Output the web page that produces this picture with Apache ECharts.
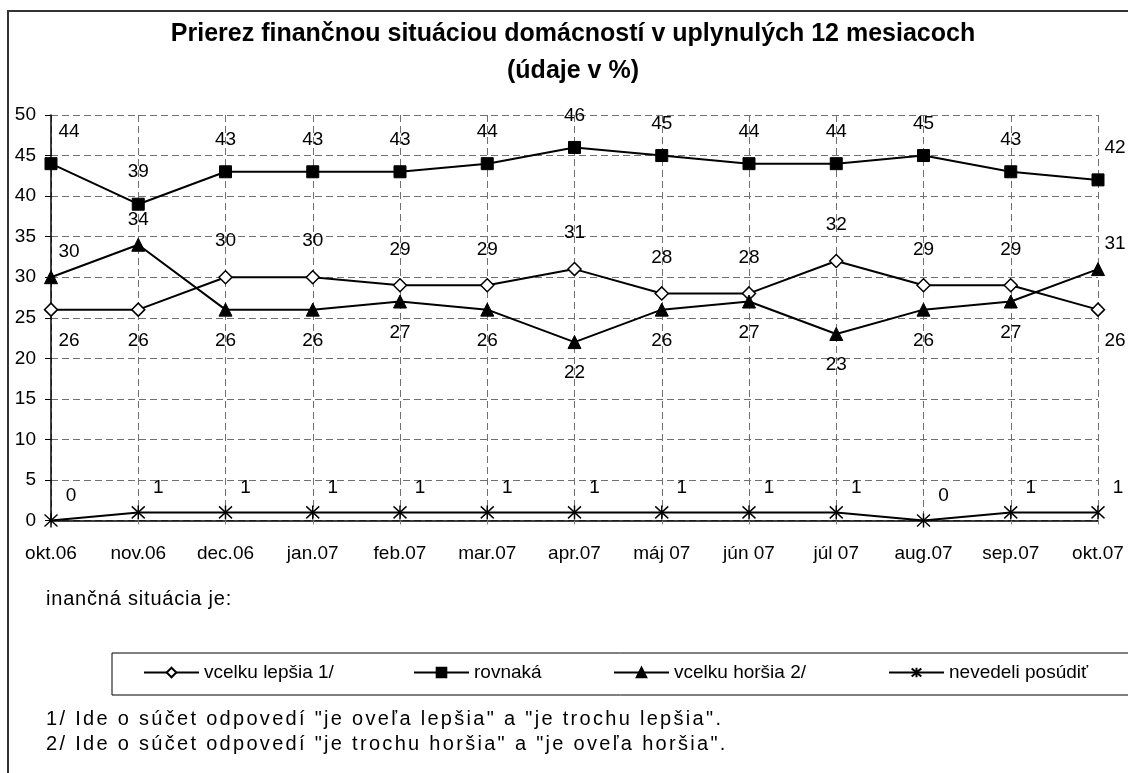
<!DOCTYPE html>
<html>
<head>
<meta charset="utf-8">
<style>
  html, body { margin: 0; padding: 0; background: #fff; }
  #wrap { position: relative; width: 1128px; height: 773px; overflow: hidden; }
  #chart { width: 1128px; height: 773px; }
  .note {
    position: absolute; left: 46px;
    font: 20px "Liberation Sans", Arial, sans-serif;
    line-height: 20px; color: #000; white-space: nowrap;
  }
</style>
<script src="https://cdn.jsdelivr.net/npm/echarts@6/dist/echarts.min.js"></script>
</head>
<body>
<div id="wrap">
  <div id="chart"></div>
  <div class="note" style="top:588px; letter-spacing:0.8px;">inančná situácia je:</div>
  <div class="note" style="top:708px; letter-spacing:2.3px;">1/ Ide o súčet odpovedí "je oveľa lepšia" a "je trochu lepšia".</div>
  <div class="note" style="top:733px; letter-spacing:2.3px;">2/ Ide o súčet odpovedí "je trochu horšia" a "je oveľa horšia".</div>
</div>
<script>
var chart = echarts.init(document.getElementById('chart'));

var months = ['okt.06', 'nov.06', 'dec.06', 'jan.07', 'feb.07', 'mar.07', 'apr.07',
              'máj 07', 'jún 07', 'júl 07', 'aug.07', 'sep.07', 'okt.07'];
var lepsia   = [26, 26, 30, 30, 29, 29, 31, 28, 28, 32, 29, 29, 26];
var rovnaka  = [44, 39, 43, 43, 43, 44, 46, 45, 44, 44, 45, 43, 42];
var horsia   = [30, 34, 26, 26, 27, 26, 22, 26, 27, 23, 26, 27, 31];
var nevedeli = [0, 1, 1, 1, 1, 1, 1, 1, 1, 1, 0, 1, 1];
var yTicks = [0, 5, 10, 15, 20, 25, 30, 35, 40, 45, 50];

var names = ['vcelku lepšia 1/', 'rovnaká', 'vcelku horšia 2/', 'nevedeli posúdiť'];
var FONT = 'Liberation Sans, Arial, sans-serif';

// horizontal shift of the labels at the first and last month
function dx(i) {
    if (i === 0) return 18;
    if (i === months.length - 1) return 17;
    return 0;
}

// label goes above when this series is the higher one of the pair, else below
function pointsWithLabels(values, other, upOff, downOff) {
    return values.map(function (v, i) {
        var up = other ? v >= other[i] : true;
        return {
            value: v,
            label: {
                show: true,
                position: 'inside',
                offset: [dx(i), up ? upOff : downOff]
            }
        };
    });
}

var labelStyle = {
    show: true,
    color: '#000',
    fontSize: 19,
    fontFamily: FONT
};

function lineSeries(name, data, symbol, size, fill) {
    return {
        name: name,
        type: 'line',
        data: data,
        symbol: symbol,
        symbolSize: size,
        showAllSymbol: true,
        animation: false,
        lineStyle: { color: '#000', width: 2 },
        itemStyle: { color: fill, borderColor: '#000', borderWidth: fill === '#fff' ? 1.5 : 1 },
        label: labelStyle,
        emphasis: { disabled: true },
        z: 3
    };
}

var star = 'path://M1,1L13,13M13,1L1,13M7,0L7,14';

var legendLefts = [143, 413, 613, 888];
var legends = names.map(function (n, k) {
    return {
        data: [n],
        left: legendLefts[k],
        top: 663,
        padding: 0,
        itemWidth: 55,
        itemHeight: 12,
        selectedMode: false,
        textStyle: { color: '#000', fontSize: 19, fontFamily: FONT }
    };
});

chart.setOption({
    backgroundColor: '#fff',
    title: {
        text: 'Prierez finančnou situáciou domácností v uplynulých 12 mesiacoch\n(údaje v %)',
        left: 568,
        textAlign: 'center',
        top: 11,
        textStyle: {
            color: '#000',
            fontSize: 25,
            fontWeight: 'bold',
            fontFamily: FONT,
            lineHeight: 37
        }
    },
    legend: legends,
    grid: { left: 51, right: 30, top: 115, bottom: 252.5, containLabel: false },
    xAxis: {
        type: 'category',
        data: months,
        boundaryGap: false,
        axisLine: { lineStyle: { color: '#000', width: 1.5 } },
        axisTick: { show: true, length: 6, lineStyle: { color: '#808080', type: 'dashed' } },
        axisLabel: { color: '#000', fontSize: 19, fontFamily: FONT, margin: 24 },
        splitLine: { show: true, lineStyle: { color: '#707070', type: [7, 4], width: 1 } }
    },
    yAxis: {
        type: 'value',
        min: yTicks[0],
        max: yTicks[yTicks.length - 1],
        interval: 5,
        axisLine: { show: true, lineStyle: { color: '#000', width: 1.5 } },
        axisTick: { show: true, length: 6, lineStyle: { color: '#000' } },
        axisLabel: { color: '#000', fontSize: 19, fontFamily: FONT, margin: 15 },
        splitLine: { show: true, lineStyle: { color: '#707070', type: [7, 4], width: 1 } }
    },
    series: [
        lineSeries(names[0], pointsWithLabels(lepsia, horsia, -36, 31), 'diamond', 13, '#fff'),
        lineSeries(names[1], pointsWithLabels(rovnaka, null, -32, 31), 'rect', 12, '#000'),
        lineSeries(names[2], pointsWithLabels(horsia, lepsia, -25, 31), 'triangle', 13, '#000'),
        (function () {
            var s = lineSeries(names[3], nevedeli.map(function (v) {
                return { value: v, label: { show: true, position: 'inside', offset: [20, -25] } };
            }), star, [13, 14], '#000');
            s.itemStyle.borderWidth = 1.5;
            return s;
        })()
    ],
    graphic: [
        {
            type: 'rect',
            shape: { x: 8, y: 11, width: 1200, height: 800 },
            style: { fill: null, stroke: '#333', lineWidth: 2 },
            silent: true,
            z: 0
        },
        {
            type: 'rect',
            shape: { x: 112, y: 653, width: 1100, height: 42 },
            style: { fill: null, stroke: '#000', lineWidth: 1 },
            silent: true
        }
    ]
});
</script>
</body>
</html>
